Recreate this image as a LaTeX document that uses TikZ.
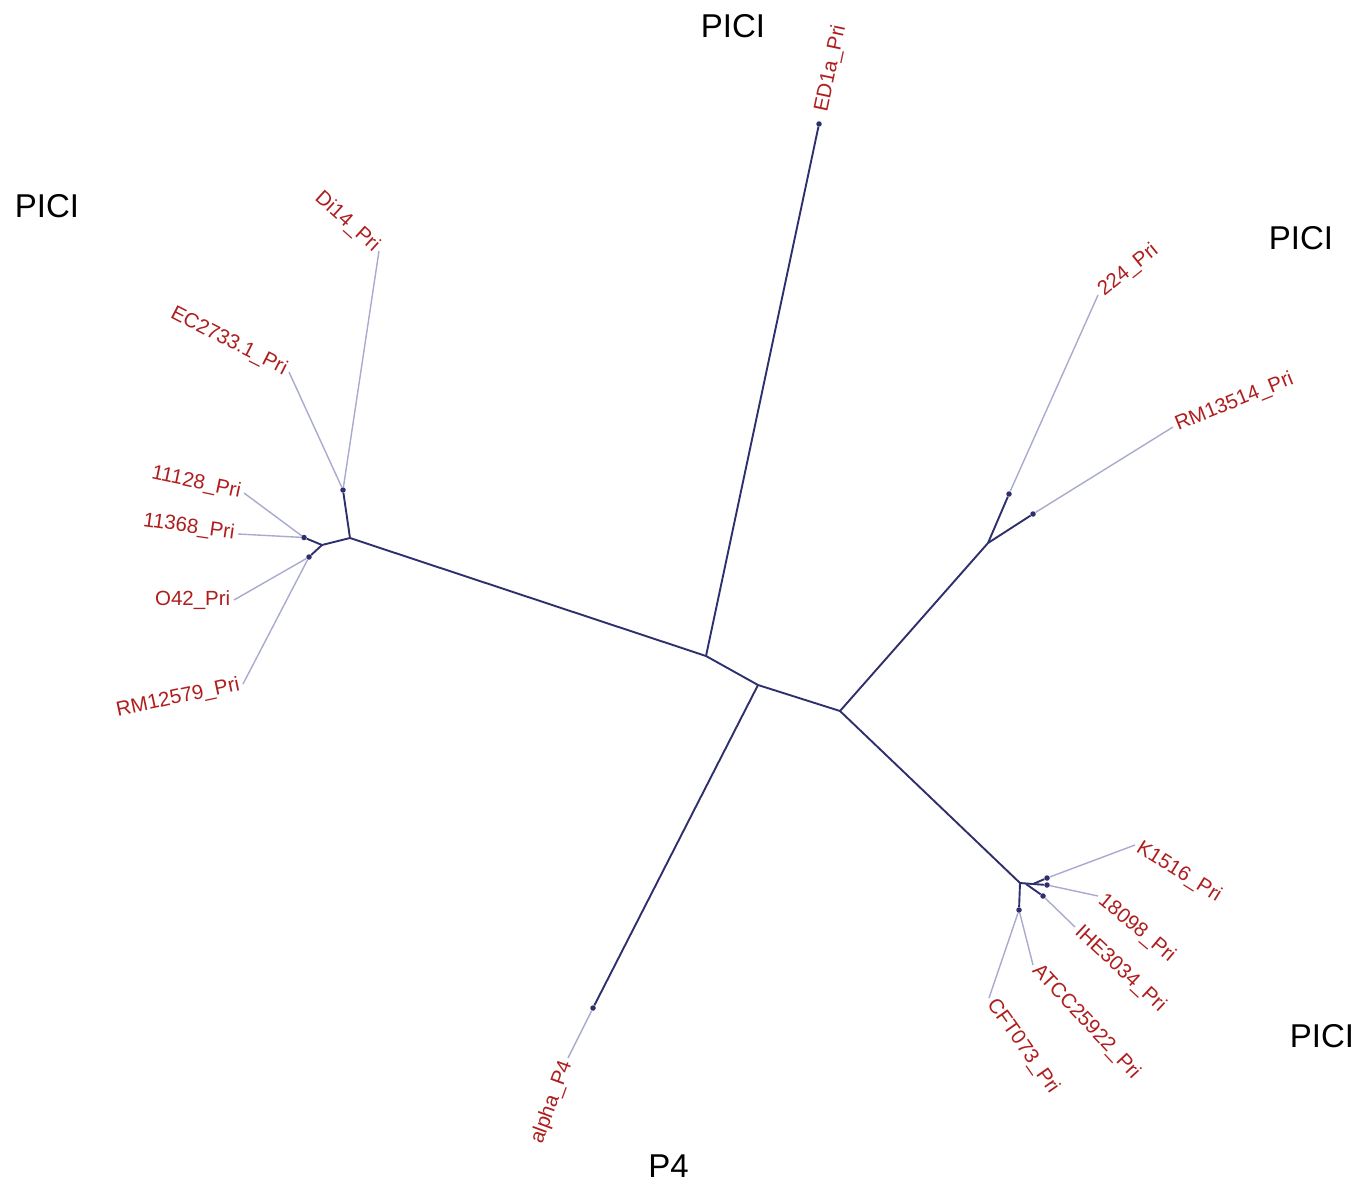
\documentclass[tikz,border=0pt]{standalone}
\usepackage{fontspec}
\setmainfont{Liberation Sans}
\usepackage{tikz}
\usepackage{xcolor}
\definecolor{branchcol}{RGB}{46,48,110}
\definecolor{tipcol}{RGB}{168,170,206}
\definecolor{taxoncol}{RGB}{175,30,30}

\begin{document}
\begin{tikzpicture}[x=1pt,y=-1pt]
\tikzstyle{dot} =[circle, fill = branchcol,inner sep=0pt,minimum size=5.5pt]
\tikzstyle{branchline} =[draw=branchcol,line width=1.9pt]
\tikzstyle{tipline} =[draw=tipcol,line width=1.4pt]
\tikzstyle{taxon} =[text=taxoncol,font=\fontsize{20.5}{21}\selectfont,inner sep=3.5pt]
\tikzstyle{group} =[font=\fontsize{33}{36}\selectfont]

\useasboundingbox (0,0) rectangle (1364,1190);

% inner joints
\coordinate (nA) at (706,656);
\coordinate (nB) at (758,685);
\coordinate (nC) at (840,711);
\coordinate (nL1) at (350,538);
\coordinate (nL2) at (322,545);
\coordinate (nT) at (988,543);
\coordinate (nR) at (1020,883);
\coordinate (nR2) at (1026,884);
\coordinate (nR3) at (1033,884);

% dots
\node[dot](dED) at (819,124){};
\node[dot](dAl) at (593,1008){};
\node[dot](dDi) at (343,490){};
\node[dot](d11) at (304,537.5){};
\node[dot](dO) at (309,557){};
\node[dot](d224) at (1009,494){};
\node[dot](dRM) at (1033,514){};
\node[dot](dK) at (1047,878){};
\node[dot](d18) at (1047,885){};
\node[dot](dIH) at (1043,896){};
\node[dot](dCF) at (1019,910){};

% tip ends
\coordinate (eED) at (821,115);
\coordinate (eAl) at (568,1058);
\coordinate (eDi) at (379,251);
\coordinate (eEC) at (289,372);
\coordinate (e111) at (244,493);
\coordinate (e113) at (238,534);
\coordinate (eO) at (234,600);
\coordinate (eRM1) at (243,684);
\coordinate (e224) at (1098,295);
\coordinate (eRM2) at (1173,427);
\coordinate (eK) at (1135,845);
\coordinate (e18) at (1098,896);
\coordinate (eIH) at (1075,927);
\coordinate (eAT) at (1033,965);
\coordinate (eCF) at (989,998);

\draw [branchline] (nA) to (nB);
\draw [branchline] (nB) to (nC);
\draw [branchline] (nA) to (dED);
\draw [branchline] (nB) to (dAl);
\draw [branchline] (nA) to (nL1);
\draw [branchline] (nL1) to (dDi);
\draw [branchline] (nL1) to (nL2);
\draw [branchline] (nL2) to (d11);
\draw [branchline] (nL2) to (dO);
\draw [branchline] (nC) to (nT);
\draw [branchline] (nT) to (d224);
\draw [branchline] (nT) to (dRM);
\draw [branchline] (nC) to (nR);
\draw [branchline] (nR) to (nR3);
\draw [branchline] (nR3) to (dK);
\draw [branchline] (nR3) to (d18);
\draw [branchline] (nR2) to (dIH);
\draw [branchline] (nR) to (dCF);

\draw [tipline] (dAl) to (eAl);
\draw [tipline] (dDi) to (eDi);
\draw [tipline] (dDi) to (eEC);
\draw [tipline] (d11) to (e111);
\draw [tipline] (d11) to (e113);
\draw [tipline] (dO) to (eO);
\draw [tipline] (dO) to (eRM1);
\draw [tipline] (d224) to (e224);
\draw [tipline] (dRM) to (eRM2);
\draw [tipline] (dK) to (eK);
\draw [tipline] (d18) to (e18);
\draw [tipline] (dIH) to (eIH);
\draw [tipline] (dCF) to (eAT);
\draw [tipline] (dCF) to (eCF);

% taxa
\node[taxon,rotate=78,anchor=west](tED) at (eED){ED1a\_Pri};
\node[taxon,rotate=70,anchor=east](tAl) at (eAl){alpha\_P4};
\node[taxon,rotate=-42,anchor=east](tDi) at (eDi){Di14\_Pri};
\node[taxon,rotate=-27,anchor=east](tEC) at (eEC){EC2733.1\_Pri};
\node[taxon,rotate=-12,anchor=east](t111) at (e111){11128\_Pri};
\node[taxon,rotate=-8,anchor=east](t113) at (e113){11368\_Pri};
\node[taxon,anchor=east](tO) at (eO){O42\_Pri};
\node[taxon,rotate=12,anchor=east](tRM1) at (eRM1){RM12579\_Pri};
\node[taxon,rotate=39,anchor=west](t224) at (e224){224\_Pri};
\node[taxon,rotate=22,anchor=west](tRM2) at (eRM2){RM13514\_Pri};
\node[taxon,rotate=-32,anchor=west](tK) at (eK){K1516\_Pri};
\node[taxon,rotate=-40,anchor=west](t18) at (e18){18098\_Pri};
\node[taxon,rotate=-43,anchor=west](tIH) at (eIH){IHE3034\_Pri};
\node[taxon,rotate=-47,anchor=west](tAT) at (eAT){ATCC25922\_Pri};
\node[taxon,rotate=-55,anchor=west](tCF) at (eCF){CFT073\_Pri};

% groups
\node[group](g1) at (733,26){PICI};
\node[group](g2) at (47,206){PICI};
\node[group](g3) at (1301,238){PICI};
\node[group](g4) at (1322,1036){PICI};
\node[group](g5) at (668.5,1166.5){P4};
\end{tikzpicture}
\end{document}
